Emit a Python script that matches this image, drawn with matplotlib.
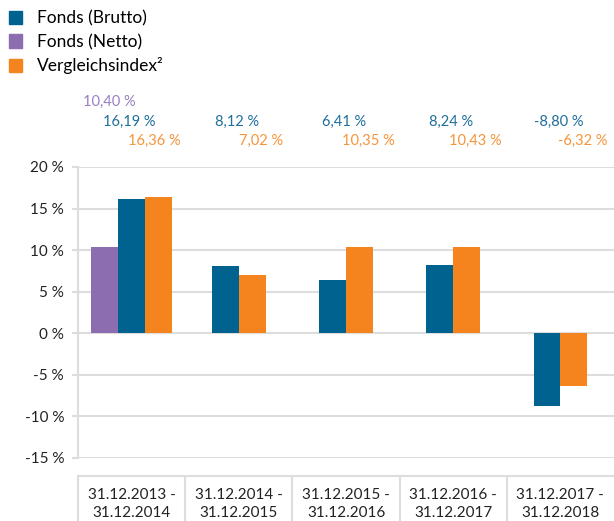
import matplotlib.pyplot as plt
from matplotlib.patches import Patch
import matplotlib.transforms as mtransforms

periods = ['31.12.2013 -\n31.12.2014', '31.12.2014 -\n31.12.2015', '31.12.2015 -\n31.12.2016',
           '31.12.2016 -\n31.12.2017', '31.12.2017 -\n31.12.2018']
brutto = [16.19, 8.12, 6.41, 8.24, -8.80]
netto = [10.40]  # only first period
index = [16.36, 7.02, 10.35, 10.43, -6.32]

c_blue = '#00628f'
c_purple = '#8c6eb0'
c_orange = '#f5841f'
c_grid = '#dddddd'

plt.rcParams['font.family'] = ['Lato', 'DejaVu Sans']
fig = plt.figure(figsize=(6.14, 5.21), dpi=100)
ax = fig.add_axes([0.127, 0.121, 0.873, 0.5585])

w = 0.25
for i in range(len(periods)):
    if i < len(netto):
        ax.bar(i - w, netto[i], w, color=c_purple)
        ax.bar(i, brutto[i], w, color=c_blue)
        ax.bar(i + w, index[i], w, color=c_orange)
    else:
        ax.bar(i - w / 2, brutto[i], w, color=c_blue)
        ax.bar(i + w / 2, index[i], w, color=c_orange)

ax.set_xlim(-0.5, 4.5)
ax.set_ylim(-15, 20)
ax.set_yticks(range(-15, 21, 5))
ax.set_yticklabels([f'{v} %' for v in range(-15, 21, 5)], fontsize=11, color='#222222')
ax.set_xticks([])
ax.grid(axis='y', color=c_grid, linewidth=1.5)
ax.set_axisbelow(True)
for s in ['top', 'right', 'bottom']:
    ax.spines[s].set_visible(False)
ax.spines['left'].set_color(c_grid)
ax.spines['left'].set_linewidth(1.5)
ax.tick_params(axis='y', length=4, width=1.5, color=c_grid, pad=6)

# value labels above the plot
tr = mtransforms.blended_transform_factory(ax.transData, fig.transFigure)
fmt = lambda v: f'{v:.2f}'.replace('.', ',') + ' %'
for i, v in enumerate(netto):
    ax.text(i - 0.21, 1 - 102 / 521, fmt(v), transform=tr, ha='center', va='center',
            fontsize=10.5, color='#9a80c0')
for i, v in enumerate(brutto):
    ax.text(i - 0.02, 1 - 122 / 521, fmt(v), transform=tr, ha='center', va='center',
            fontsize=10.5, color='#1f6f9c')
for i, v in enumerate(index):
    ax.text(i + 0.21, 1 - 141 / 521, fmt(v), transform=tr, ha='center', va='center',
            fontsize=10.5, color='#f5953a')

# category table at the bottom
tab = fig.add_axes([0.127, -0.05, 0.873, 0.1364])
tab.set_xlim(-0.5, 4.5)
tab.set_ylim(0, 1)
tab.set_xticks([])
tab.set_yticks([])
for s in ['right', 'bottom']:
    tab.spines[s].set_visible(False)
for s in ['top', 'left']:
    tab.spines[s].set_color(c_grid)
    tab.spines[s].set_linewidth(1.5)
for i in range(1, len(periods)):
    tab.axvline(i - 0.5, color=c_grid, linewidth=1.5)
tr2 = mtransforms.blended_transform_factory(tab.transData, fig.transFigure)
for i, p in enumerate(periods):
    tab.text(i, 1 - 504 / 521, p, transform=tr2, ha='center', va='center',
             fontsize=11, color='#222222', linespacing=1.35)

handles = [Patch(color=c_blue), Patch(color=c_purple), Patch(color=c_orange)]
fig.legend(handles, ['Fonds (Brutto)', 'Fonds (Netto)', 'Vergleichsindex²'],
           loc='upper left', bbox_to_anchor=(-0.003, 1.0), frameon=False, fontsize=12.5,
           handlelength=0.8, handleheight=0.8, handletextpad=0.85, labelspacing=0.42,
           borderaxespad=0.2)

fig.savefig('out.png', dpi=100)
